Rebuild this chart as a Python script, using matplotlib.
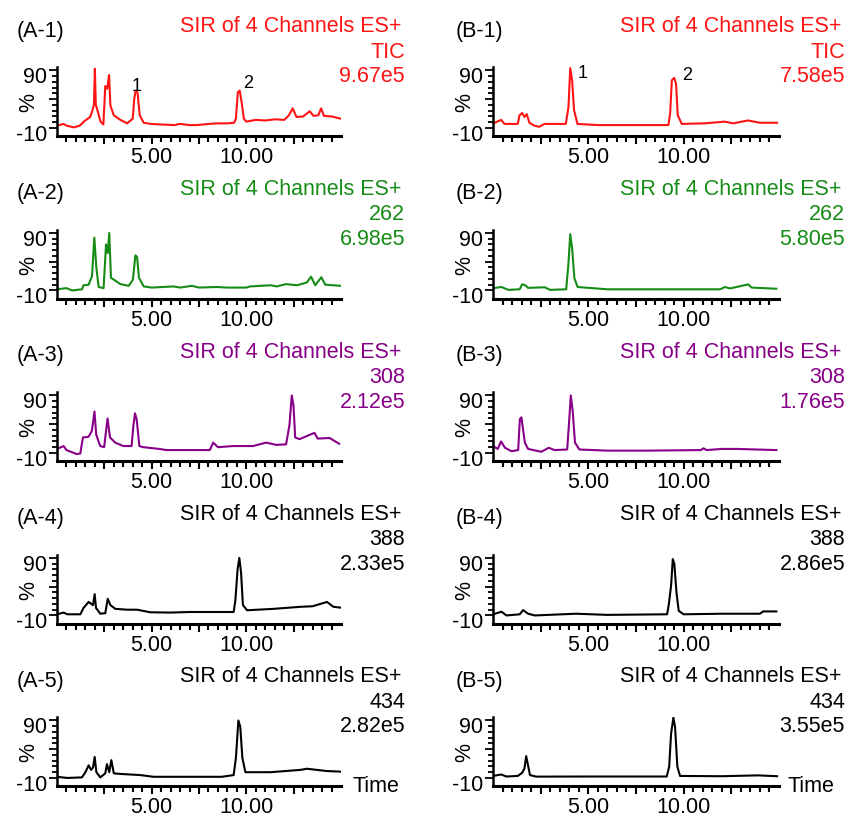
import matplotlib
matplotlib.use("Agg")
import matplotlib.pyplot as plt
import matplotlib.transforms as mtransforms
import numpy as np

plt.rcParams['font.family'] = ['Liberation Sans', 'DejaVu Sans']

# chromatogram traces, time (min) vs relative intensity (%)
tA1 = [0, 0.35, 0.5, 0.9, 1.2, 1.45, 1.75, 1.85, 1.95, 2.0, 2.05, 2.1, 2.3, 2.45, 2.55, 2.65, 2.75, 2.82, 3.0, 3.35,
       3.7, 4.0, 4.08, 4.15, 4.25, 4.37, 4.58, 4.95, 5.5, 6.2, 6.5, 7.0, 7.4, 8.0, 8.5, 9.0, 9.35, 9.45, 9.55, 9.65,
       9.75, 9.87, 10.0, 10.5, 11.0, 11.5, 12.0, 12.25, 12.45, 12.65, 13.0, 13.35, 13.55, 13.8, 13.95, 14.1, 14.5, 15.0]
vA1 = [-6, -3, -6, -9, -6, 2, 9, 18, 30, 93, 30, 25, 1, -4, 63, 58, 82, 29, 12, 4,
       -2, 6, 40, 55, 52, 12, -1, -3, -4, -5, -3, -5, -5, -3, -2, -2, -1, 6, 52, 55,
       35, 6, 1, 4, 3, 5, 4, 12, 24, 9, 10, 19, 11, 12, 24, 11, 10, 6]

tA2 = [0, 0.5, 0.8, 1.32, 1.4, 1.67, 1.85, 1.97, 2.08, 2.2, 2.46, 2.59, 2.68, 2.76, 2.85, 3.08, 3.35, 3.79, 4.01, 4.14,
       4.23, 4.33, 4.58, 5.0, 6.16, 6.5, 7.13, 7.5, 8.45, 9.0, 10.0, 10.2, 11.3, 11.6, 12.1, 12.68, 13.2, 13.42, 13.64,
       13.96, 14.17, 15.0]
vA2 = [-8, -6, -10, -8, -1, 0, 15, 82, 29, -4, -6, 70, 55, 90, 12, 7, 1, -2, 9, 51,
       48, 12, -3, -5, -3, -5, -2, -5, -4, -5, -5, -3, -1, -3, 1, -1, 4, 14, -1,
       13, 0, -2]

tA3 = [0, 0.35, 0.5, 1.05, 1.23, 1.37, 1.66, 1.84, 1.98, 2.07, 2.28, 2.49, 2.67, 2.8, 3.07, 3.5, 3.94, 4.03, 4.12, 4.21,
       4.35, 4.56, 5.4, 5.79, 8.07, 8.25, 8.5, 9.3, 10.35, 11.05, 11.58, 12.1, 12.28, 12.4, 12.49, 12.58, 12.81, 13.6,
       13.77, 14.4, 14.9]
vA3 = [-3, 2, -5, -12, -11, 17, 18, 28, 62, 22, 2, 0, 50, 17, 8, 2, 2, 36, 59, 48,
       2, 0, -3, -5, -5, 8, 0, 2, 2, 8, 4, 5, 39, 90, 73, 17, 14, 25,
       15, 16, 6]

tA4 = [0, 0.35, 0.55, 1.23, 1.4, 1.67, 1.9, 1.99, 2.06, 2.29, 2.55, 2.68, 2.82, 3.08, 3.7, 4.23, 4.93, 6.0, 7.0, 8.0,
       9.33, 9.42, 9.54, 9.63, 9.72, 9.82, 10.04, 11.44, 12.85, 13.5, 14.26, 14.6, 14.96]
vA4 = [-8, -5, -8, -8, 3, 13.5, 8, 27, 3, -7, -6, 19, 8, 1.5, 0, 0, -4.5, -5, -4, -4,
       -4, 16, 71, 90, 65, 8, -1, 1.5, 5, 6, 13.5, 5, 3.7]

tA5 = [0, 0.55, 1.32, 1.5, 1.67, 1.8, 1.9, 1.99, 2.08, 2.29, 2.55, 2.64, 2.76, 2.87, 3.0, 3.35, 4.4, 5.1, 7.0, 8.7,
       9.33, 9.45, 9.58, 9.68, 9.79, 9.95, 11.27, 12.85, 13.2, 14.26, 14.96]
vA5 = [-8, -10, -9, 0, 12, 4, 8, 26.5, 0, -9, -2, 14, 0, 21, -2, -3, -5, -8, -8, -8,
       -5, 25, 90, 79, 25, 0, 0, 4, 6, 2, 1]

tB1 = [0, 0.09, 0.43, 0.6, 1.3, 1.39, 1.53, 1.65, 1.77, 1.91, 2.17, 2.43, 2.7, 2.95, 3.82, 3.96, 4.05, 4.15, 4.25, 4.43,
       5.5, 7.0, 9.2, 9.29, 9.38, 9.5, 9.6, 9.69, 9.9, 11.1, 12.15, 12.6, 13.37, 14.0, 14.9]
vB1 = [-3, -1, 4, -3, -3, 12, 16, 9, 14, -1, -6, -8, -3, -3, -3, 27, 94, 73, 21, -3,
       -5, -5, -5, 15, 73, 77, 67, 12, -3, -2, 1, -2, 3, -1, -1]

tB2 = [0, 0.45, 0.8, 1.4, 1.53, 1.67, 1.84, 2.71, 3.0, 3.84, 3.96, 4.05, 4.15, 4.27, 4.44, 6.0, 8.0, 10.0, 11.9, 12.17,
       12.43, 13.39, 13.56, 14.86]
vB2 = [-6, -4, -9, -8, 0.5, -0.5, -5.5, -4.5, -9, -8, 38, 88, 63, 11, -4, -8, -8, -8, -8, -4,
       -6.5, 0.5, -5, -7]

tB3 = [0, 0.25, 0.42, 0.63, 0.97, 1.32, 1.41, 1.49, 1.58, 1.67, 1.84, 2.53, 2.92, 3.23, 3.89, 3.98, 4.08, 4.18, 4.3,
       4.53, 6.0, 8.0, 10.9, 11.04, 11.2, 12.0, 12.78, 14.86]
vB3 = [2, -3, 10, -1, -7, -5, 49, 52, 30, 8, -3, -8, -1, -5, -4, 38, 90, 63, 8,
       -4, -6, -6, -5, -2, -5, -3, -3, -5]

tB4 = [0, 0.45, 0.7, 1.4, 1.58, 1.84, 2.19, 4.36, 6.0, 9.13, 9.22, 9.34, 9.43, 9.51, 9.62, 9.74, 10.0, 12.0, 14.0,
       14.17, 14.86]
vB4 = [-8, -3.5, -10, -8, -0.7, -7, -10, -7, -9, -8, 9, 42, 88, 80, 31, -2, -8, -7, -7,
       -3, -3]

tB5 = [0, 0.43, 0.7, 1.3, 1.53, 1.65, 1.74, 1.82, 1.94, 2.26, 5.0, 8.0, 9.11, 9.24, 9.34, 9.46, 9.55, 9.67, 9.81,
       12.0, 13.9, 14.9]
vB5 = [-6.5, -4, -7.5, -6.5, -1, 6.7, 28, 15, -5, -7.7, -7.5, -7.5, -7.5, 9.5, 67, 95, 78, 9.5, -6.5,
       -7, -5.5, -7]

channels = ["TIC", "262", "308", "388", "434"]
intens_A = ["9.67e5", "6.98e5", "2.12e5", "2.33e5", "2.82e5"]
intens_B = ["7.58e5", "5.80e5", "1.76e5", "2.86e5", "3.55e5"]
colors = ["#ff1414", "#168c16", "#870087", "black", "black"]

# peak labels on the TIC traces: (time, %, text)
peaks_A = [(4.23, 62, "1"), (10.07, 67, "2")]
peaks_B = [(4.69, 85, "1"), (10.16, 81, "2")]

traces = [[(tA1, vA1), (tA2, vA2), (tA3, vA3), (tA4, vA4), (tA5, vA5)],
          [(tB1, vB1), (tB2, vB2), (tB3, vB3), (tB4, vB4), (tB5, vB5)]]

W, H = 846, 818
fig = plt.figure(figsize=(W / 100, H / 100), dpi=100)
FS = 15.5

col_left = [57, 493]
col_right = [341, 779]
tag_x = [17, 456]
title_x = [401, 841]
info_x = [405, 845]
time_x = [352, 787]
pitch = 162.5

for c in range(2):
    for r in range(5):
        top = 67 + pitch * r
        bot = 136 + pitch * r
        ax = fig.add_axes([col_left[c] / W, 1 - bot / H, (col_right[c] - col_left[c]) / W, (bot - top) / H])
        t, v = traces[c][r]
        ax.plot(t, v, color=colors[r], lw=1.5)
        ax.set_xlim(0, 15)
        ax.set_ylim(-24, 96)
        for s in ['top', 'right']:
            ax.spines[s].set_visible(False)
        ax.spines['bottom'].set_linewidth(2.2)
        ax.spines['left'].set_linewidth(1.8)

        ax.set_xticks([2.5, 5, 7.5, 10, 12.5])
        ax.set_xticklabels(["", "5.00", "", "10.00", ""])
        ax.set_xticks(np.arange(0.5, 15, 0.5), minor=True)
        ax.tick_params(axis='x', which='major', length=6, width=1.5, labelsize=FS, pad=2)
        ax.tick_params(axis='x', which='minor', length=4, width=1.5)

        ax.set_yticks([-10, 40, 90])
        ax.set_yticklabels(["-10", "", "90"])
        ax.set_yticks(np.arange(0, 90, 10), minor=True)
        ax.tick_params(axis='y', which='major', length=6, width=1.3, labelsize=FS, pad=1)
        ax.tick_params(axis='y', which='minor', length=3.5, width=1.3)
        off = mtransforms.ScaledTranslation(0, -0.05, fig.dpi_scale_trans)
        for lab in ax.get_yticklabels():
            lab.set_transform(lab.get_transform() + off)

        ax.text(-0.10, 0.48, "%", transform=ax.transAxes, rotation=90,
                ha='center', va='center', fontsize=FS)

        if r == 0:
            for pt, pv, s in (peaks_A if c == 0 else peaks_B):
                ax.text(pt, pv, s, fontsize=13, ha='center', va='center', color='black')

        tag = "(%s-%d)" % ("AB"[c], r + 1)
        fig.text(tag_x[c] / W, 1 - (31 + pitch * r) / H, tag, fontsize=FS, va='center', ha='left')
        fig.text(title_x[c] / W, 1 - (27 + pitch * r) / H, "SIR of 4 Channels ES+",
                 fontsize=FS, va='center', ha='right', color=colors[r])
        fig.text(info_x[c] / W, 1 - (52 + pitch * r) / H, channels[r],
                 fontsize=FS, va='center', ha='right', color=colors[r])
        fig.text(info_x[c] / W, 1 - (77 + pitch * r) / H, (intens_A if c == 0 else intens_B)[r],
                 fontsize=FS, va='center', ha='right', color=colors[r])

    fig.text(time_x[c] / W, 1 - 787 / H, "Time", fontsize=FS, va='center', ha='left')

fig.savefig("out.png", dpi=100)
